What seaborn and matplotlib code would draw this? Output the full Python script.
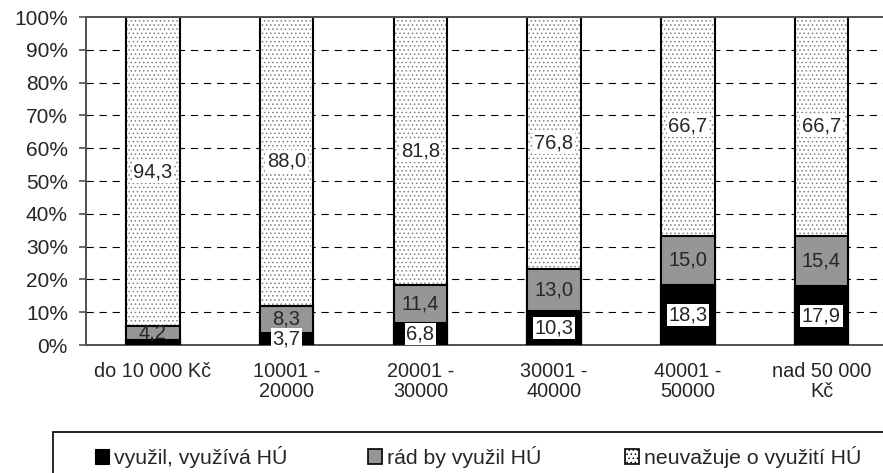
import matplotlib
matplotlib.use("Agg")
import matplotlib.pyplot as plt
from matplotlib.patches import Rectangle, Patch
import seaborn as sns
import pandas as pd
import numpy as np

categories = ["do 10 000 Kč", "10001 -\n20000", "20001 -\n30000", "30001 -\n40000", "40001 -\n50000", "nad 50 000\nKč"]
vyuzil = [1.5, 3.7, 6.8, 10.3, 18.3, 17.9]
rad_by = [4.2, 8.3, 11.4, 13.0, 15.0, 15.4]
neuvazuje = [94.3, 88.0, 81.8, 76.8, 66.7, 66.7]
series_names = ["využil, využívá HÚ", "rád by využil HÚ", "neuvažuje o využití HÚ"]
show_black_label = [False, True, True, True, True, True]

sns.set_style("white")
plt.rcParams['font.family'] = ['Liberation Sans', 'DejaVu Sans']
plt.rcParams['hatch.linewidth'] = 0.6
plt.rcParams['lines.scale_dashes'] = False

fig = plt.figure(figsize=(8.83, 4.73), dpi=100)
ax = fig.add_axes([86/883, 1-345/473, 1-86/883, (345-17)/473])

df = pd.DataFrame({"cat": categories, "a": vyuzil, "b": rad_by, "c": neuvazuje})
df["cum_b"] = df["a"] + df["b"]
df["total"] = (df["a"] + df["b"] + df["c"]).clip(upper=100)

# gridlines
for y in range(10, 100, 10):
    ax.axhline(y, color="black", lw=0.8, ls=(0, (5.2, 4.2)), zorder=0)

sns.barplot(data=df, x="cat", y="total", color="white", width=0.4, ax=ax,
            edgecolor="black", linewidth=1.5, saturation=1, zorder=2)
n = len(categories)
for p in list(ax.patches[:n]):
    p.set_hatch("....")
    p._hatch_color = (0.5, 0.5, 0.5, 1)
sns.barplot(data=df, x="cat", y="cum_b", color="#969696", width=0.4, ax=ax,
            edgecolor="black", linewidth=1.5, saturation=1, zorder=3)
sns.barplot(data=df, x="cat", y="a", color="black", width=0.4, ax=ax,
            edgecolor="black", linewidth=1.5, saturation=1, zorder=4)

fs = 14.5
for i in range(n):
    a, b, c = vyuzil[i], rad_by[i], neuvazuje[i]
    ax.text(i, a + b + (100 - a - b) / 2, f"{c:.1f}".replace(".", ","), ha="center", va="center",
            fontsize=fs, zorder=6, bbox=dict(boxstyle="square,pad=0.08", fc="white", ec="none"))
    ax.text(i, a + b / 2, f"{b:.1f}".replace(".", ","), ha="center", va="center", fontsize=fs, zorder=6)
    if show_black_label[i]:
        ax.text(i, a / 2, f"{a:.1f}".replace(".", ","), ha="center", va="center",
                fontsize=fs, zorder=6, bbox=dict(boxstyle="square,pad=0.08", fc="white", ec="none"))

ax.set_xlim(-0.5, 5.46)
ax.set_ylim(0, 100)
ax.set_yticks(range(0, 101, 10))
ax.set_yticklabels([f"{v}%" for v in range(0, 101, 10)], fontsize=15)
ax.set_xticks(range(n))
ax.set_xticklabels(categories, fontsize=14.3, linespacing=1.1)
ax.tick_params(axis="x", length=0, pad=12)
ax.set_xticks(np.arange(0.5, n - 0.5, 1), minor=True)
ax.tick_params(axis="x", which="minor", length=5, width=1.2, color="#505050", direction="out")
ax.tick_params(axis="y", length=5, width=1.2, color="#505050", direction="out", left=True, pad=8)
ax.set_xlabel("")
ax.set_ylabel("")
for s in ["left", "bottom", "top"]:
    ax.spines[s].set_color("#505050")
    ax.spines[s].set_linewidth(1.4)
ax.spines["right"].set_visible(False)

# legend frame
fig.patches.append(Rectangle((53/883, -0.2), 1.0, 0.2 + 1 - 432/473, transform=fig.transFigure,
                             fill=False, ec="black", lw=1.2, figure=fig))
handles = [Patch(fc="black", ec="black", lw=0.8), Patch(fc="#969696", ec="black", lw=1.2),
           Patch(fc="white", ec="black", hatch="....", lw=1.2)]
xs = [95, 368, 625]
for h, name, x in zip(handles, series_names, xs):
    fig.legend([h], [name], loc="center left", bbox_to_anchor=(x/883, 1 - 457/473),
               frameon=False, borderpad=0, borderaxespad=0, handlelength=0.68, handleheight=0.68,
               handletextpad=0.2, prop={"size": 15.3})

fig.savefig("out.png", dpi=100)
